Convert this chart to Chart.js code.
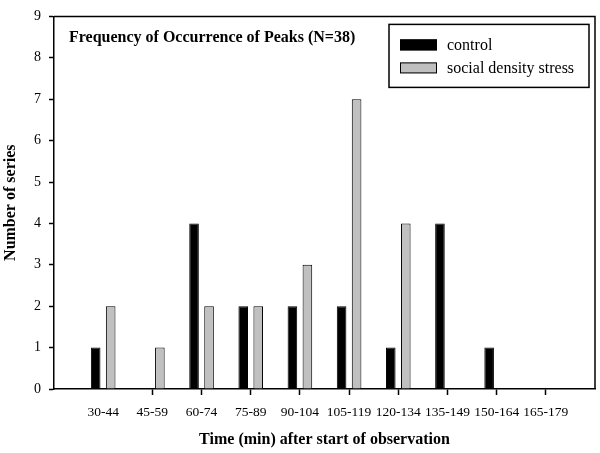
<!DOCTYPE html>
<html>
<head>
<meta charset="utf-8">
<script src="https://cdn.jsdelivr.net/npm/chart.js@4/dist/chart.umd.min.js"></script>
<style>
  html, body { margin: 0; padding: 0; background: #fff; }
  #wrap { position: relative; width: 600px; height: 453px; }
</style>
</head>
<body>
<div id="wrap"><canvas id="peaks"></canvas></div>
<script>
// Frequency of occurrence of peaks, control vs social density stress.
const CATEGORIES = ['30-44', '45-59', '60-74', '75-89', '90-104', '105-119', '120-134', '135-149', '150-164', '165-179'];
const CONTROL = [1, 0, 4, 2, 2, 2, 1, 4, 1, 0];
const STRESS = [2, 1, 2, 2, 3, 7, 4, 0, 0, 0];
const Y_TICKS = [0, 1, 2, 3, 4, 5, 6, 7, 8, 9];

const SERIF = '"Liberation Serif", "Times New Roman", serif';
const GREY = '#c0c0c0';

// The axis has an empty slot at each end so the first group sits one full
// category in from the y axis, as in the original figure.
const pad = arr => [null, ...arr, null];
const labels = pad(CATEGORIES);

const frameAndLegend = {
    id: 'frameAndLegend',
    afterDraw(chart) {
        const { ctx, chartArea: a } = chart;
        ctx.save();
        ctx.strokeStyle = '#000';
        ctx.lineWidth = 1.5;
        ctx.beginPath();
        ctx.moveTo(a.left, a.top);
        ctx.lineTo(a.right, a.top);
        ctx.lineTo(a.right, a.bottom);
        ctx.stroke();

        // inner title
        ctx.fillStyle = '#000';
        ctx.font = 'bold 16px ' + SERIF;
        ctx.textBaseline = 'middle';
        ctx.textAlign = 'left';
        ctx.fillText('Frequency of Occurrence of Peaks (N=38)', a.left + 15, a.top + 21);

        // legend box
        const bx = a.right - 206, by = a.top + 8, bw = 200, bh = 63;
        ctx.lineWidth = 1.5;
        ctx.strokeRect(bx, by, bw, bh);
        chart.data.datasets.forEach((ds, i) => {
            const sy = by + 15 + i * 23;
            ctx.fillStyle = ds.backgroundColor;
            ctx.fillRect(bx + 11, sy, 37, 11);
            ctx.lineWidth = 1;
            ctx.strokeStyle = '#000';
            ctx.strokeRect(bx + 11.5, sy + 0.5, 36, 10);
            ctx.fillStyle = '#000';
            ctx.font = '16px ' + SERIF;
            ctx.fillText(ds.label, bx + 58, sy + 6);
        });
        ctx.restore();
    }
};

new Chart(document.getElementById('peaks'), {
    type: 'bar',
    data: {
        labels,
        datasets: [{
            label: 'control',
            data: pad(CONTROL),
            backgroundColor: '#000',
            borderColor: '#000',
            borderWidth: 1,
            categoryPercentage: 0.61,
            barPercentage: 0.64
        }, {
            label: 'social density stress',
            data: pad(STRESS),
            backgroundColor: GREY,
            borderColor: '#000',
            borderWidth: 1,
            categoryPercentage: 0.61,
            barPercentage: 0.64
        }]
    },
    options: {
        responsive: true,
        maintainAspectRatio: false,
        animation: false,
        devicePixelRatio: 1,
        layout: { padding: { top: 11, right: 5, left: 0, bottom: 0 } },
        plugins: {
            legend: { display: false },
            tooltip: { enabled: false }
        },
        scales: {
            x: {
                offset: false,
                grid: {
                    offset: false,
                    drawOnChartArea: false,
                    tickLength: 6,
                    tickWidth: 1.5,
                    tickColor: ctx => (ctx.index === 0 || ctx.index === labels.length - 1) ? 'rgba(0,0,0,0)' : '#000'
                },
                border: { color: '#000', width: 1.5 },
                ticks: {
                    color: '#000',
                    font: { family: SERIF, size: 13.5 },
                    padding: 9,
                    maxRotation: 0,
                    autoSkip: false
                },
                title: {
                    display: true,
                    text: 'Time (min) after start of observation',
                    color: '#000',
                    font: { family: SERIF, size: 16, weight: 'bold' },
                    padding: { top: 0, bottom: 4 }
                },
                afterFit: s => { s.height = 64; }
            },
            y: {
                min: 0,
                max: 9,
                afterBuildTicks: s => { s.ticks = Y_TICKS.map(v => ({ value: v })); },
                grid: { drawOnChartArea: false, tickLength: 5, tickWidth: 1.5, tickColor: '#000' },
                border: { color: '#000', width: 1.5 },
                ticks: {
                    color: '#000',
                    font: { family: SERIF, size: 14 },
                    padding: 8
                },
                title: {
                    display: true,
                    text: 'Number of series',
                    color: '#000',
                    font: { family: SERIF, size: 16, weight: 'bold' },
                    padding: { top: 1, bottom: 0 }
                },
                afterFit: s => { s.width = 54; }
            }
        }
    },
    plugins: [frameAndLegend]
});
</script>
</body>
</html>
